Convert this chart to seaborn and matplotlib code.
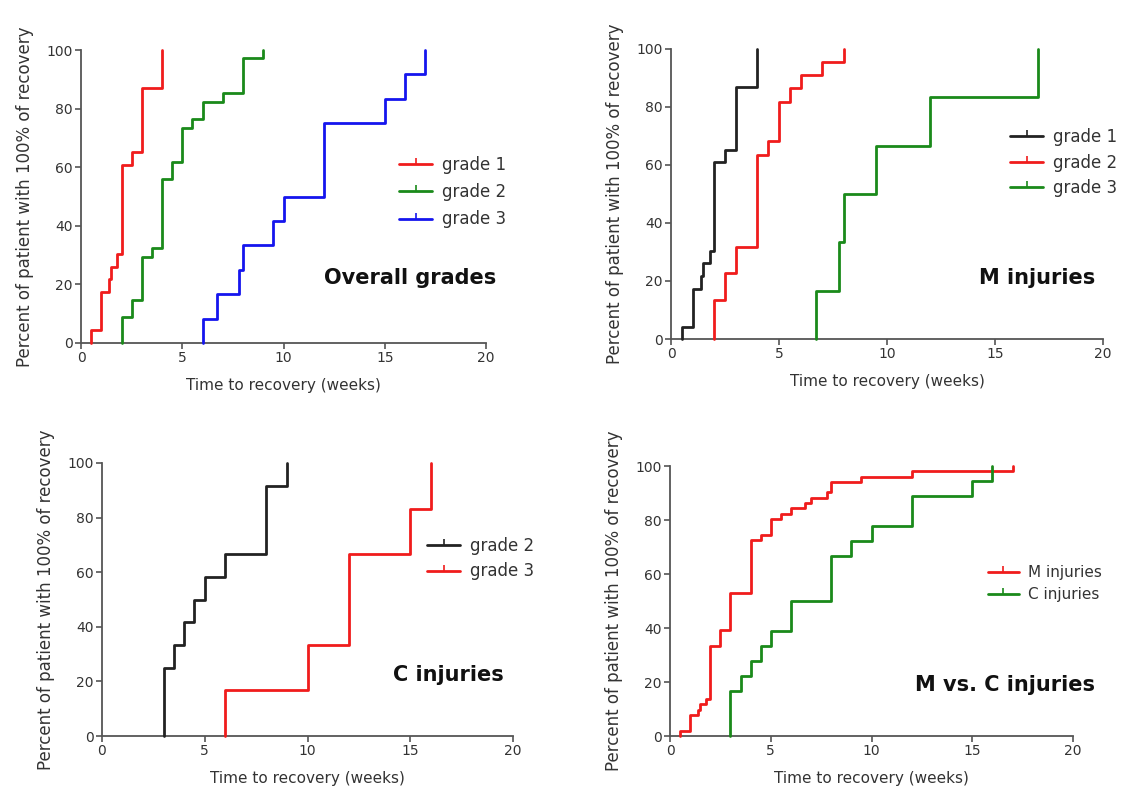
import numpy as np
import pandas as pd
import matplotlib
matplotlib.use("Agg")
import matplotlib.pyplot as plt
from matplotlib.lines import Line2D
import seaborn as sns

# ---------------- data ----------------
overall_g1_t = [0.5, 1, 1.4, 1.5, 1.8, 2, 2.5, 3, 4]
overall_g1_p = [4.3, 17.4, 21.7, 26.1, 30.4, 60.9, 65.2, 87.0, 100]
overall_g2_t = [2, 2.5, 3, 3.5, 4, 4.5, 5, 5.5, 6, 7, 8, 9]
overall_g2_p = [8.8, 14.7, 29.4, 32.4, 55.9, 61.8, 73.5, 76.5, 82.4, 85.3, 97.1, 100]
overall_g3_t = [6, 6.7, 7.8, 8, 9.5, 10, 12, 15, 16, 17]
overall_g3_p = [8.3, 16.7, 25, 33.3, 41.7, 50, 75, 83.3, 91.7, 100]

m_g1_t = [0.5, 1, 1.4, 1.5, 1.8, 2, 2.5, 3, 4]
m_g1_p = [4.3, 17.4, 21.7, 26.1, 30.4, 60.9, 65.2, 87.0, 100]
m_g2_t = [2, 2.5, 3, 4, 4.5, 5, 5.5, 6, 7, 8]
m_g2_p = [13.6, 22.7, 31.8, 63.6, 68.2, 81.8, 86.4, 90.9, 95.5, 100]
m_g3_t = [6.7, 7.8, 8, 9.5, 12, 17]
m_g3_p = [16.7, 33.3, 50, 66.7, 83.3, 100]

c_g2_t = [3, 3.5, 4, 4.5, 5, 6, 8, 9]
c_g2_p = [25, 33.3, 41.7, 50, 58.3, 66.7, 91.7, 100]
c_g3_t = [6, 10, 12, 15, 16]
c_g3_p = [16.7, 33.3, 66.7, 83.3, 100]

mc_m_t = [0.5, 1, 1.4, 1.5, 1.8, 2, 2.5, 3, 4, 4.5, 5, 5.5, 6, 6.7, 7, 7.8, 8, 9.5, 12, 17]
mc_m_p = [2.0, 7.8, 9.8, 11.8, 13.7, 33.3, 39.2, 52.9, 72.5, 74.5, 80.4, 82.4, 84.3,
          86.3, 88.2, 90.2, 94.1, 96.1, 98.0, 100]
mc_c_t = [3, 3.5, 4, 4.5, 5, 6, 8, 9, 10, 12, 15, 16]
mc_c_p = [16.7, 22.2, 27.8, 33.3, 38.9, 50, 66.7, 72.2, 77.8, 88.9, 94.4, 100]

x_ticks = [0, 5, 10, 15, 20]
y_ticks = [0, 20, 40, 60, 80, 100]
x_label = "Time to recovery (weeks)"
y_label = "Percent of patient with 100% of recovery"

RED = "#f01c1c"
GREEN = "#1a8a1a"
BLUE = "#1515ee"
BLACK = "#222222"

panels = [
    dict(title="Overall grades",
         series=[("grade 1", overall_g1_t, overall_g1_p, RED),
                 ("grade 2", overall_g2_t, overall_g2_p, GREEN),
                 ("grade 3", overall_g3_t, overall_g3_p, BLUE)],
         rect=[81 / 1121, (794 - 343) / 794, 405 / 1121, 293 / 794],
         title_xy=(410, 278), leg_xy=(399, 156), leg_fs=12, leg_sp=0.55),
    dict(title="M injuries",
         series=[("grade 1", m_g1_t, m_g1_p, BLACK),
                 ("grade 2", m_g2_t, m_g2_p, RED),
                 ("grade 3", m_g3_t, m_g3_p, GREEN)],
         rect=[671 / 1121, (794 - 339) / 794, 432 / 1121, 290 / 794],
         title_xy=(1037, 278), leg_xy=(1010, 128), leg_fs=12, leg_sp=0.45),
    dict(title="C injuries",
         series=[("grade 2", c_g2_t, c_g2_p, BLACK),
                 ("grade 3", c_g3_t, c_g3_p, RED)],
         rect=[102 / 1121, (794 - 736) / 794, 411 / 1121, 273 / 794],
         title_xy=(448, 675), leg_xy=(427, 537), leg_fs=12, leg_sp=0.45),
    dict(title="M vs. C injuries",
         series=[("M injuries", mc_m_t, mc_m_p, RED),
                 ("C injuries", mc_c_t, mc_c_p, GREEN)],
         rect=[670 / 1121, (794 - 736) / 794, 403 / 1121, 270 / 794],
         title_xy=(1005, 685), leg_xy=(988, 565), leg_fs=11, leg_sp=0.45),
]

sns.set_theme(style="ticks")
plt.rcParams["font.family"] = ["DejaVu Sans"]

W, H = 1121, 794
fig = plt.figure(figsize=(W / 100, H / 100), dpi=100)
fig.patch.set_facecolor("white")

AX_COL = "#555555"
TXT_COL = "#333333"

for p in panels:
    ax = fig.add_axes(p["rect"])
    rows = []
    for name, t, pc in [(s[0], s[1], s[2]) for s in p["series"]]:
        xs = [t[0]] + list(t)
        ys = [0] + list(pc)
        for xx, yy in zip(xs, ys):
            rows.append(dict(series=name, x=xx, y=yy))
    df = pd.DataFrame(rows)
    palette = {s[0]: s[3] for s in p["series"]}
    sns.lineplot(data=df, x="x", y="y", hue="series", palette=palette,
                 estimator=None, sort=False, drawstyle="steps-post",
                 linewidth=2.0, legend=False, ax=ax, clip_on=False, zorder=3)

    ax.set_xlim(0, 20)
    ax.set_ylim(0, 100)
    ax.set_xticks(x_ticks)
    ax.set_yticks(y_ticks)
    for side in ["top", "right"]:
        ax.spines[side].set_visible(False)
    for side in ["left", "bottom"]:
        ax.spines[side].set_color(AX_COL)
        ax.spines[side].set_linewidth(1.3)
    ax.tick_params(axis="both", direction="out", length=4, width=1.2,
                   color=AX_COL, labelcolor=TXT_COL, labelsize=10, pad=2)
    ax.set_xlabel(x_label, fontsize=11, color=TXT_COL, labelpad=9)
    ax.set_ylabel(y_label, fontsize=12, color=TXT_COL, labelpad=9)
    ax.set_facecolor("white")

    handles = [Line2D([0], [0], color=s[3], lw=2.0, marker=2, markersize=4,
                      markeredgewidth=1.2) for s in p["series"]]
    labels = [s[0] for s in p["series"]]
    lx, ly = p["leg_xy"]
    leg = ax.legend(handles, labels, loc="upper left",
                    bbox_to_anchor=(lx / W, 1 - ly / H),
                    bbox_transform=fig.transFigure, frameon=False,
                    fontsize=p["leg_fs"], handlelength=2.0, handletextpad=0.6,
                    labelspacing=p["leg_sp"], borderpad=0, borderaxespad=0,
                    numpoints=1)
    for txt in leg.get_texts():
        txt.set_color(TXT_COL)

    tx, ty = p["title_xy"]
    fig.text(tx / W, 1 - ty / H, p["title"], fontsize=15, fontweight="bold",
             color="#111111", ha="center", va="center")

fig.savefig("out.png", dpi=100, facecolor="white")
